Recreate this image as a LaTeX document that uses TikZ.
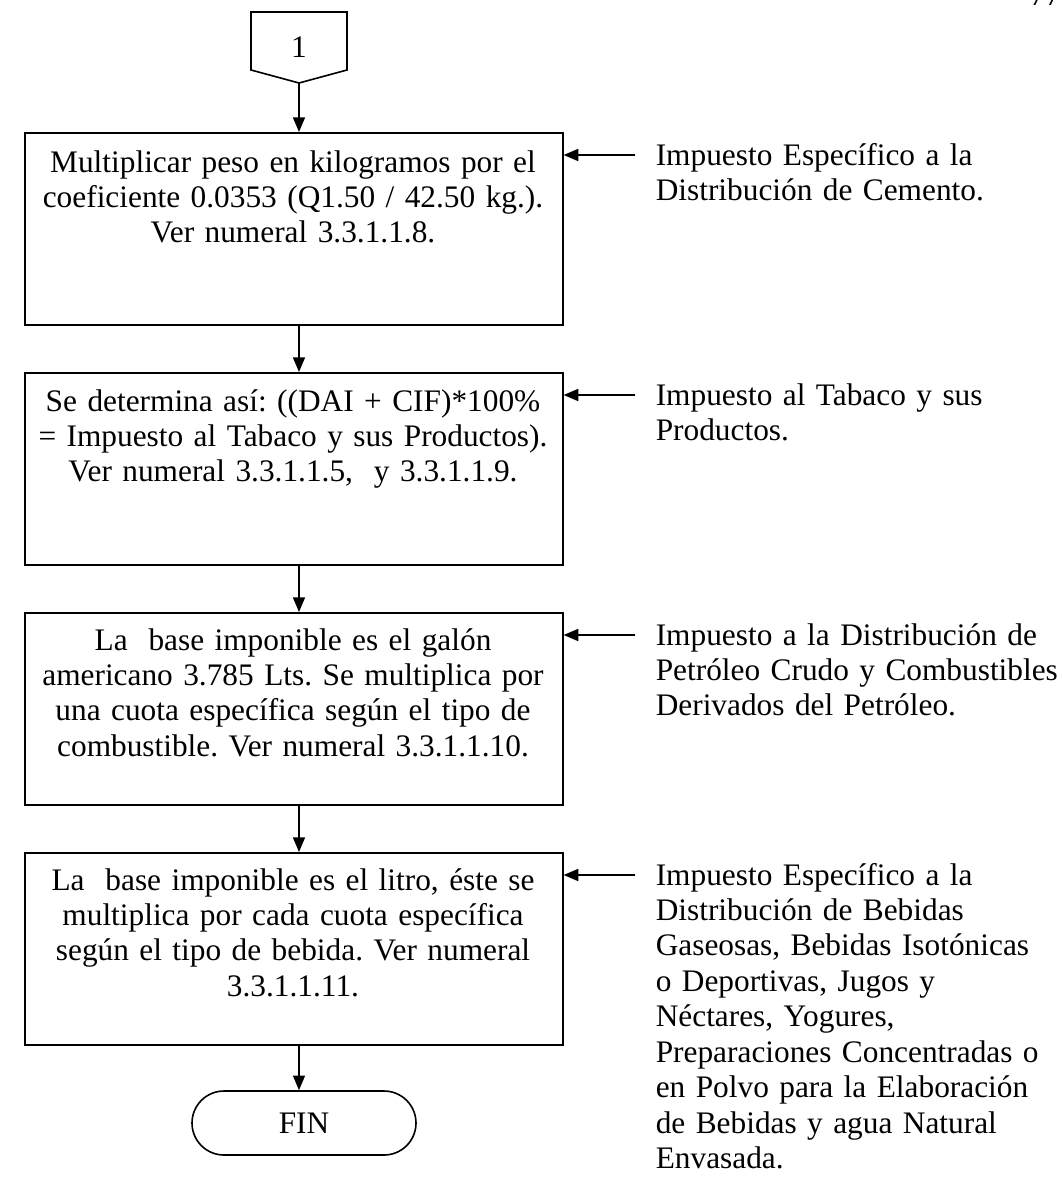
\documentclass[tikz,border=0pt]{standalone}
\usepackage{fontspec}
\setmainfont{Liberation Serif}
\usetikzlibrary{arrows.meta,shapes.misc}
\frenchspacing
\begin{document}
\begin{tikzpicture}[x=0.75pt,y=-0.75pt,line width=1.2pt,
  txt/.style={font=\fontsize{23.5}{26.6}\selectfont,inner sep=0pt},
  boxtext/.style={txt,anchor=base,text width=390pt,align=center},
  sidetext/.style={txt,anchor=base west,text width=330pt,align=left},
  procbox/.style={draw,rectangle,anchor=north west,minimum width=403.5pt,minimum height=144pt,inner sep=0pt},
  terminal/.style={draw,rounded rectangle,minimum width=168pt,minimum height=48pt,inner sep=0pt,txt},
  arr/.style={-{Triangle[length=11pt,width=9pt]}}]
\useasboundingbox (0,0) rectangle (1061,1188);
\clip (0,0) rectangle (1061,1188);

% page number at the top edge
\node[txt,anchor=base west] (pg) at (1029,6) {77};

% off-page connector
\draw (251,12) -- (347,12) -- (347,70) -- (299,83) -- (251,70) -- cycle;
\coordinate (cp) at (299,83);
\node[txt] (one) at (299,47) {1};

% process boxes
\node[procbox] (b1) at (24,132) {};
\node[procbox] (b2) at (24,372) {};
\node[procbox] (b3) at (24,612) {};
\node[procbox] (b4) at (24,852) {};

\node[boxtext] (t1) at (293,172) {Multiplicar peso en kilogramos por el\\coeficiente 0.0353 (Q1.50 / 42.50 kg.).\\Ver numeral 3.3.1.1.8.};
\node[boxtext] (t2) at (293,411) {Se determina así: ((DAI + CIF)*100\%\\= Impuesto al Tabaco y sus Productos).\\Ver numeral 3.3.1.1.5,\ \ y 3.3.1.1.9.};
\node[boxtext] (t3) at (293,650) {La\ \ base imponible es el galón\\americano 3.785 Lts. Se multiplica por\\una cuota específica según el tipo de\\combustible. Ver numeral 3.3.1.1.10.};
\node[boxtext] (t4) at (293,890) {La\ \ base imponible es el litro, éste se\\multiplica por cada cuota específica\\según el tipo de bebida. Ver numeral\\3.3.1.1.11.};

% terminal
\node[terminal] (fin) at (304,1123) {FIN};

% flow connectors
\draw[arr] (cp) -- (cp |- b1.north);
\draw[arr] (cp |- b1.south) -- (cp |- b2.north);
\draw[arr] (cp |- b2.south) -- (cp |- b3.north);
\draw[arr] (cp |- b3.south) -- (cp |- b4.north);
\draw[arr] (cp |- b4.south) -- (cp |- fin.north);

% side annotations
\coordinate (a1) at (635,155);
\coordinate (a2) at (635,395);
\coordinate (a3) at (635,635);
\coordinate (a4) at (635,875);
\draw[arr] (a1) -- (a1 -| b1.east);
\draw[arr] (a2) -- (a2 -| b2.east);
\draw[arr] (a3) -- (a3 -| b3.east);
\draw[arr] (a4) -- (a4 -| b4.east);

\node[sidetext] (s1) at (655,165) {Impuesto Específico a la\\Distribución de Cemento.};
\node[sidetext] (s2) at (655,405) {Impuesto al Tabaco y sus\\Productos.};
\node[sidetext] (s3) at (655,645) {Impuesto a la Distribución de\\Petróleo Crudo y Combustibles\\Derivados del Petróleo.};
\node[sidetext] (s4) at (655,885) {Impuesto Específico a la\\Distribución de Bebidas\\Gaseosas, Bebidas Isotónicas\\o Deportivas, Jugos y\\Néctares, Yogures,\\Preparaciones Concentradas o\\en Polvo para la Elaboración\\de Bebidas y agua Natural\\Envasada.};
\end{tikzpicture}
\end{document}
